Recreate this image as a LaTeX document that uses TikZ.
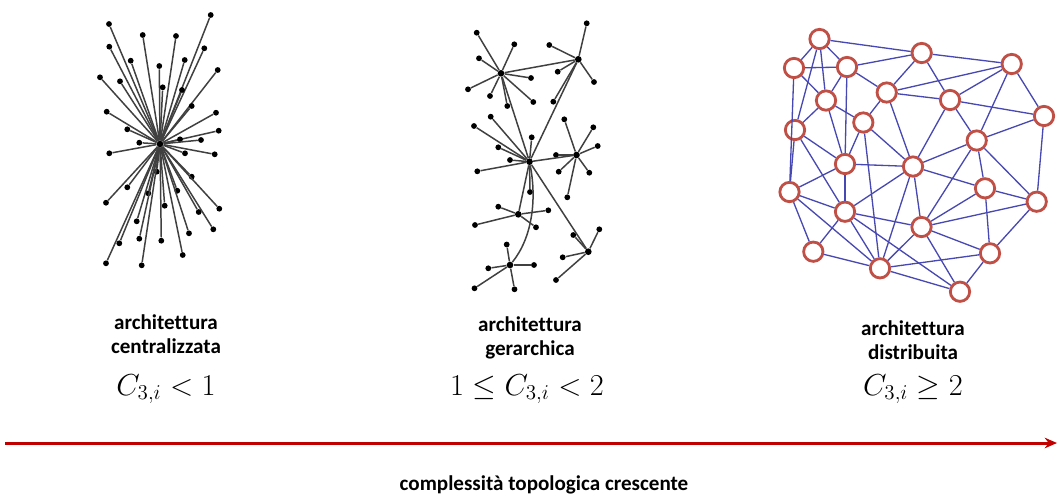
\documentclass[tikz,border=0pt]{standalone}
\usepackage{fontspec}
\setmainfont{Carlito}[Ligatures=NoCommon]
\usepackage{tikz}
\usetikzlibrary{arrows.meta,positioning}
\definecolor{peerred}{RGB}{192,80,70}
\definecolor{linkblue}{RGB}{72,72,178}
\definecolor{axisred}{RGB}{192,0,0}

\begin{document}
\begin{tikzpicture}[x=0.02cm,y=-0.02cm,
    dot/.style={circle,fill=black,inner sep=0pt,minimum size=3.3pt},
    hubdot/.style={circle,fill=black,inner sep=0pt,minimum size=3.8pt},
    spoke/.style={draw=black!75,line width=0.85pt},
    peer/.style={circle,draw=peerred,fill=white,line width=1.6pt,
                 inner sep=0pt,minimum size=11pt},
    meshlink/.style={draw=linkblue,line width=0.75pt},
    archlabel/.style={font=\fontsize{12}{14}\selectfont\bfseries,align=center},
    cond/.style={font=\fontsize{18.5}{20}\selectfont}]
  \useasboundingbox (0,0) rectangle (1058,495);

  %% centralised star
  \node[hubdot] (star) at (160,144) {};
  \foreach \x/\y [count=\k] in {210.7/15,109/24,142.7/35,176/36,109.3/46.7,
      204.3/48.3,130.7/60.7,184.7/60,159.3/66,217.7/70,100/77.3,120/81.3,
      162.7/87.3,182/90,191.7/106,106.7/111.7,216/112.7,127.3/129.3,
      218.7/130.7,180/139.3,201/140,139.3/142.7,109.3/153.3,185/153.3,
      214.7/154.3,156.7/171.7,191.7/176.7,127.3/187.3,177.3/190.7,
      148.3/193.3,106/202.7,219.3/208.7,164.7/205.7,198.7/212,136.7/221.3,
      213.3/229.3,189/233.3,139.3/238.7,119.3/243.3,161.3/240.7,
      182.7/255,106/263.3,141.7/265.3}{
    \node[dot] (s\k) at (\x,\y) {};
    \draw[spoke] (star) -- (s\k);
  }

  %% hierarchical tree
  \node[hubdot] (hubA) at (501,73.3) {};
  \node[hubdot] (hubB) at (578.3,59.3) {};
  \node[hubdot] (hubC) at (529.5,161.7) {};
  \node[hubdot] (hubD) at (576.5,155) {};
  \node[hubdot] (hubE) at (518.3,214.3) {};
  \node[hubdot] (hubF) at (510,265) {};
  \node[hubdot] (hubG) at (588.3,251.7) {};
  \foreach \x/\y [count=\k] in {476.7/32.7,514.3/44.3,479/58.3,531/78,
      468/89.3,490/96,533.3/102,507.3/106}{
    \node[dot] (a\k) at (\x,\y) {};
    \draw[spoke] (hubA) -- (a\k);
  }
  \foreach \x/\y [count=\k] in {586.7/23.3,549.3/45,557.7/71.7,594/82,
      553.3/101.7}{
    \node[dot] (b\k) at (\x,\y) {};
    \draw[spoke] (hubB) -- (b\k);
  }
  \foreach \x/\y [count=\k] in {490.7/116.7,474/126,531.7/137.3,498.3/147.3,
      510/160,477.3/171.3,530/192}{
    \node[dot] (c\k) at (\x,\y) {};
    \draw[spoke] (hubC) -- (c\k);
  }
  \foreach \x/\y [count=\k] in {564.3/119.3,593.3/127.3,597.7/146,
      558.7/171.7,589.3/172.7,567.3/197.3,556/155}{
    \node[dot] (d\k) at (\x,\y) {};
    \draw[spoke] (hubD) -- (d\k);
  }
  \foreach \x/\y [count=\k] in {498.3/206.7,548.3/210.3,475/225,536/227.3}{
    \node[dot] (e\k) at (\x,\y) {};
    \draw[spoke] (hubE) -- (e\k);
  }
  \foreach \x/\y [count=\k] in {506.7/244.5,488.3/268.3,534/265,474.5/288.3,
      514.5/289.3}{
    \node[dot] (f\k) at (\x,\y) {};
    \draw[spoke] (hubF) -- (f\k);
  }
  \foreach \x/\y [count=\k] in {573.3/235,599.3/229.3,562.7/257.3,556/280}{
    \node[dot] (g\k) at (\x,\y) {};
    \draw[spoke] (hubG) -- (g\k);
  }
  \draw[spoke] (hubA) -- (hubB);
  \draw[spoke] (hubC) -- (hubA);
  \draw[spoke] (hubC) -- (hubB);
  \draw[spoke] (hubC) -- (hubD);
  \draw[spoke] (hubC) -- (hubE);
  \draw[spoke] (hubC) -- (hubG);
  \draw[spoke] (hubC) .. controls (537,200) and (532,238) .. (hubF);

  %% distributed mesh
  \foreach \x/\y [count=\k] in {819.5/39,794/68,847/67,921.7/53,1011.7/64,
      826/100.5,886.7/92.5,950/100,863.3/122.5,1044/116,795/130,
      976.7/140.5,845/164,913/166.5,789.5/192,985/188.3,1036.7/201.7,
      845/211.7,921.5/227,813.3/251.7,990/253.3,880/268.3,960/291.7}{
    \node[peer] (p\k) at (\x,\y) {};
  }
  \foreach \i/\j in {1/2,1/3,1/4,1/6,1/11,2/3,2/6,2/15,3/4,3/6,3/7,3/13,
      4/5,4/7,4/8,5/7,5/8,5/10,5/12,6/9,6/11,6/13,7/8,7/9,7/14,8/10,8/12,
      8/14,9/13,9/14,9/22,10/12,10/17,11/13,11/15,11/18,12/14,12/16,12/17,
      12/19,13/14,13/15,13/18,14/16,14/18,14/19,14/22,15/18,15/20,15/22,
      16/17,16/19,16/21,17/19,17/21,18/19,18/20,18/22,18/23,19/21,19/22,
      19/23,20/22,21/22,21/23,22/23}{
    \draw[meshlink] (p\i) -- (p\j);
  }

  %% labels
  \node[archlabel] (lblA) at (166,334) {architettura\\centralizzata};
  \node[archlabel] (lblB) at (530,338) {architettura\\gerarchica};
  \node[archlabel] (lblC) at (913,340) {architettura\\distribuita};
  \node[cond] (condA) at (166,389) {$C_{3,i} < 1$};
  \node[cond] (condB) at (527,389) {$1 \leq C_{3,i} < 2$};
  \node[cond] (condC) at (913,389) {$C_{3,i} \geq 2$};

  %% axis
  \coordinate (axisL) at (5,443);
  \coordinate (axisR) at (1057,443);
  \draw[axisred,line width=1.7pt,-{Stealth[length=7pt,width=6pt]}]
    (axisL) -- (axisR);
  \node[font=\fontsize{12}{14}\selectfont\bfseries] (axisname) at (544,485)
    {complessità topologica crescente};
\end{tikzpicture}
\end{document}
